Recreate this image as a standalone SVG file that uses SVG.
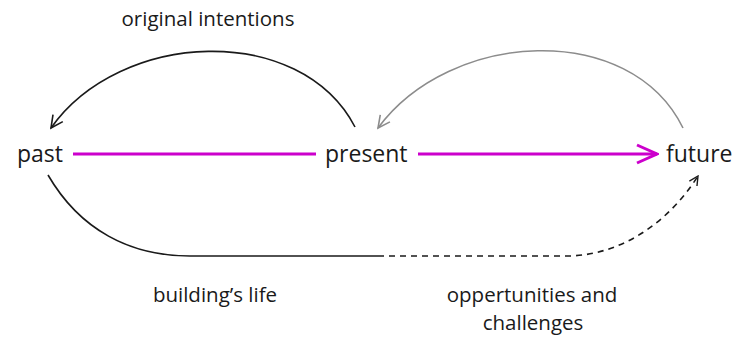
<svg xmlns="http://www.w3.org/2000/svg" width="743" height="340" viewBox="0 0 743 340">
<defs>
<style>
.node{font-family:"Open Sans","Noto Sans",sans-serif;font-size:23px;fill:#1a1a1a}
.lbl{font-family:"Open Sans","Noto Sans",sans-serif;font-size:20.5px;fill:#1a1a1a;text-anchor:middle}
.mag{stroke:#cc00cc;stroke-width:3;fill:none}
.blk{stroke:#1a1a1a;stroke-width:1.6;fill:none}
.gry{stroke:#8c8c8c;stroke-width:1.6;fill:none}
</style>
<marker id="mArrow" markerWidth="24" markerHeight="24" viewBox="0 0 24 24" refX="22" refY="12" orient="auto" markerUnits="userSpaceOnUse">
<path d="M2,3 L22,12 L2,21" fill="none" stroke="#cc00cc" stroke-width="3"/>
</marker>
<marker id="bArrow" markerWidth="16" markerHeight="16" viewBox="0 0 16 16" refX="14" refY="8" orient="auto" markerUnits="userSpaceOnUse">
<path d="M2,2 L14,8 L2,14" fill="none" stroke="#1a1a1a" stroke-width="1.6"/>
</marker>
<marker id="gArrow" markerWidth="16" markerHeight="16" viewBox="0 0 16 16" refX="14" refY="8" orient="auto" markerUnits="userSpaceOnUse">
<path d="M2,2 L14,8 L2,14" fill="none" stroke="#8c8c8c" stroke-width="1.6"/>
</marker>
<marker id="dArrow" markerWidth="12" markerHeight="12" viewBox="0 0 12 12" refX="11" refY="6" orient="auto" markerUnits="userSpaceOnUse">
<path d="M2,1.5 L11,6 L2,10.5" fill="none" stroke="#1a1a1a" stroke-width="1.4"/>
</marker>
</defs>
<rect width="743" height="340" fill="#ffffff"/>
<g id="connectors">
<line class="mag" x1="73" y1="154" x2="316" y2="154"/>
<line class="mag" x1="418" y1="154" x2="657" y2="154" marker-end="url(#mArrow)"/>
<path class="blk" d="M355,127 C300,22 120,30 51,128" marker-end="url(#bArrow)"/>
<path class="gry" d="M683,128 C630,20 450,30 378,128" marker-end="url(#gArrow)"/>
<path class="blk" d="M48,175 C80,230 130,256 190,256 L378,256"/>
<path class="blk" d="M378,256 L570,256 C625,254 670,220 698,176" stroke-dasharray="6,5" marker-end="url(#dArrow)"/>
</g>
<g id="node-past"><text class="node" x="17" y="162">past</text></g>
<g id="node-present"><text class="node" x="325" y="162">present</text></g>
<g id="node-future"><text class="node" x="666" y="162">future</text></g>
<g id="label-original"><text class="lbl" x="208" y="26">original intentions</text></g>
<g id="label-building"><text class="lbl" x="215" y="302">building’s life</text></g>
<g id="label-opp"><text class="lbl" x="532" y="302">oppertunities and</text><text class="lbl" x="533" y="330">challenges</text></g>
</svg>
